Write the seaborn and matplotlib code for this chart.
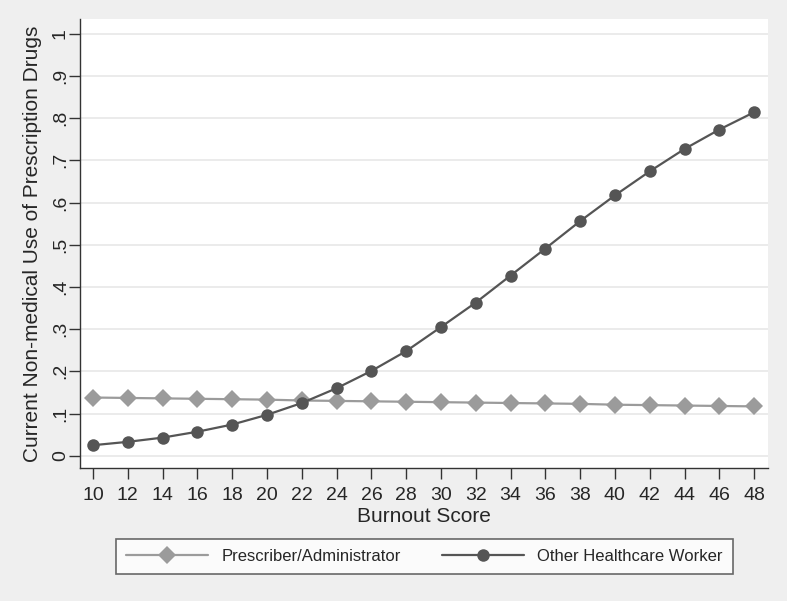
import matplotlib.pyplot as plt
import numpy as np
import pandas as pd
import seaborn as sns

burnout = [10, 12, 14, 16, 18, 20, 22, 24, 26, 28, 30, 32, 34, 36, 38, 40, 42, 44, 46, 48]
prescriber = [0.138, 0.137, 0.136, 0.135, 0.134, 0.133, 0.131, 0.130, 0.129, 0.128,
              0.127, 0.126, 0.125, 0.124, 0.123, 0.121, 0.120, 0.119, 0.118, 0.117]
other = [0.025, 0.033, 0.043, 0.057, 0.074, 0.097, 0.125, 0.160, 0.201, 0.248,
         0.305, 0.363, 0.427, 0.491, 0.556, 0.617, 0.674, 0.727, 0.773, 0.814]
groups = ['Prescriber/Administrator', 'Other Healthcare Worker']
y_ticks = [0, 0.1, 0.2, 0.3, 0.4, 0.5, 0.6, 0.7, 0.8, 0.9, 1.0]
y_labels = ['0', '.1', '.2', '.3', '.4', '.5', '.6', '.7', '.8', '.9', '1']

df = pd.DataFrame({'Burnout Score': burnout * 2,
                   'value': prescriber + other,
                   'group': [groups[0]] * len(burnout) + [groups[1]] * len(burnout)})

sns.set_style('white')
plt.rcParams['font.family'] = ['Liberation Sans', 'DejaVu Sans']

bg = '#efefef'
fig = plt.figure(figsize=(7.87, 6.01), dpi=100, facecolor=bg)
ax = fig.add_axes([80 / 787, 1 - 468 / 601, 688 / 787, 449 / 601])
ax.set_facecolor('white')

sns.lineplot(data=df, x='Burnout Score', y='value', hue='group', style='group',
             palette={groups[0]: '#9b9b9b', groups[1]: '#555555'},
             markers={groups[0]: 'D', groups[1]: 'o'}, dashes=False,
             markersize=9, markeredgewidth=0, linewidth=1.6, ax=ax)

ax.set_xlim(9.25, 48.8)
ax.set_ylim(-0.029, 1.035)
ax.set_xticks(burnout)
ax.set_xticklabels([str(b) for b in burnout], fontsize=14)
ax.set_yticks(y_ticks)
ax.set_yticklabels(y_labels, fontsize=14, rotation=90, va='center')
ax.yaxis.grid(True, color='#e8e8e8', linewidth=1.2)
ax.set_axisbelow(True)
ax.tick_params(axis='both', direction='out', length=8, width=1, color='#333333',
               left=True, bottom=True)
ax.tick_params(axis='x', pad=6)
ax.tick_params(axis='y', pad=0)
for side in ['top', 'right']:
    ax.spines[side].set_visible(False)
for side in ['left', 'bottom']:
    ax.spines[side].set_color('#333333')
    ax.spines[side].set_linewidth(1)

ax.set_xlabel('Burnout Score', fontsize=15, labelpad=2)
ax.set_ylabel('Current Non-medical Use of Prescription Drugs', fontsize=15, labelpad=7)

handles, labels = ax.get_legend_handles_labels()
ax.legend(handles, labels, loc='center', ncol=2,
          bbox_to_anchor=(424.5 / 787, 1 - 556.5 / 601), bbox_transform=fig.transFigure,
          frameon=True, fancybox=False, edgecolor='#444444', fontsize=12,
          handlelength=4.9, columnspacing=2.5, borderpad=0.6, markerscale=1.0)
ax.get_legend().get_frame().set_linewidth(1.2)

fig.savefig('out.png', dpi=100, facecolor=bg)
